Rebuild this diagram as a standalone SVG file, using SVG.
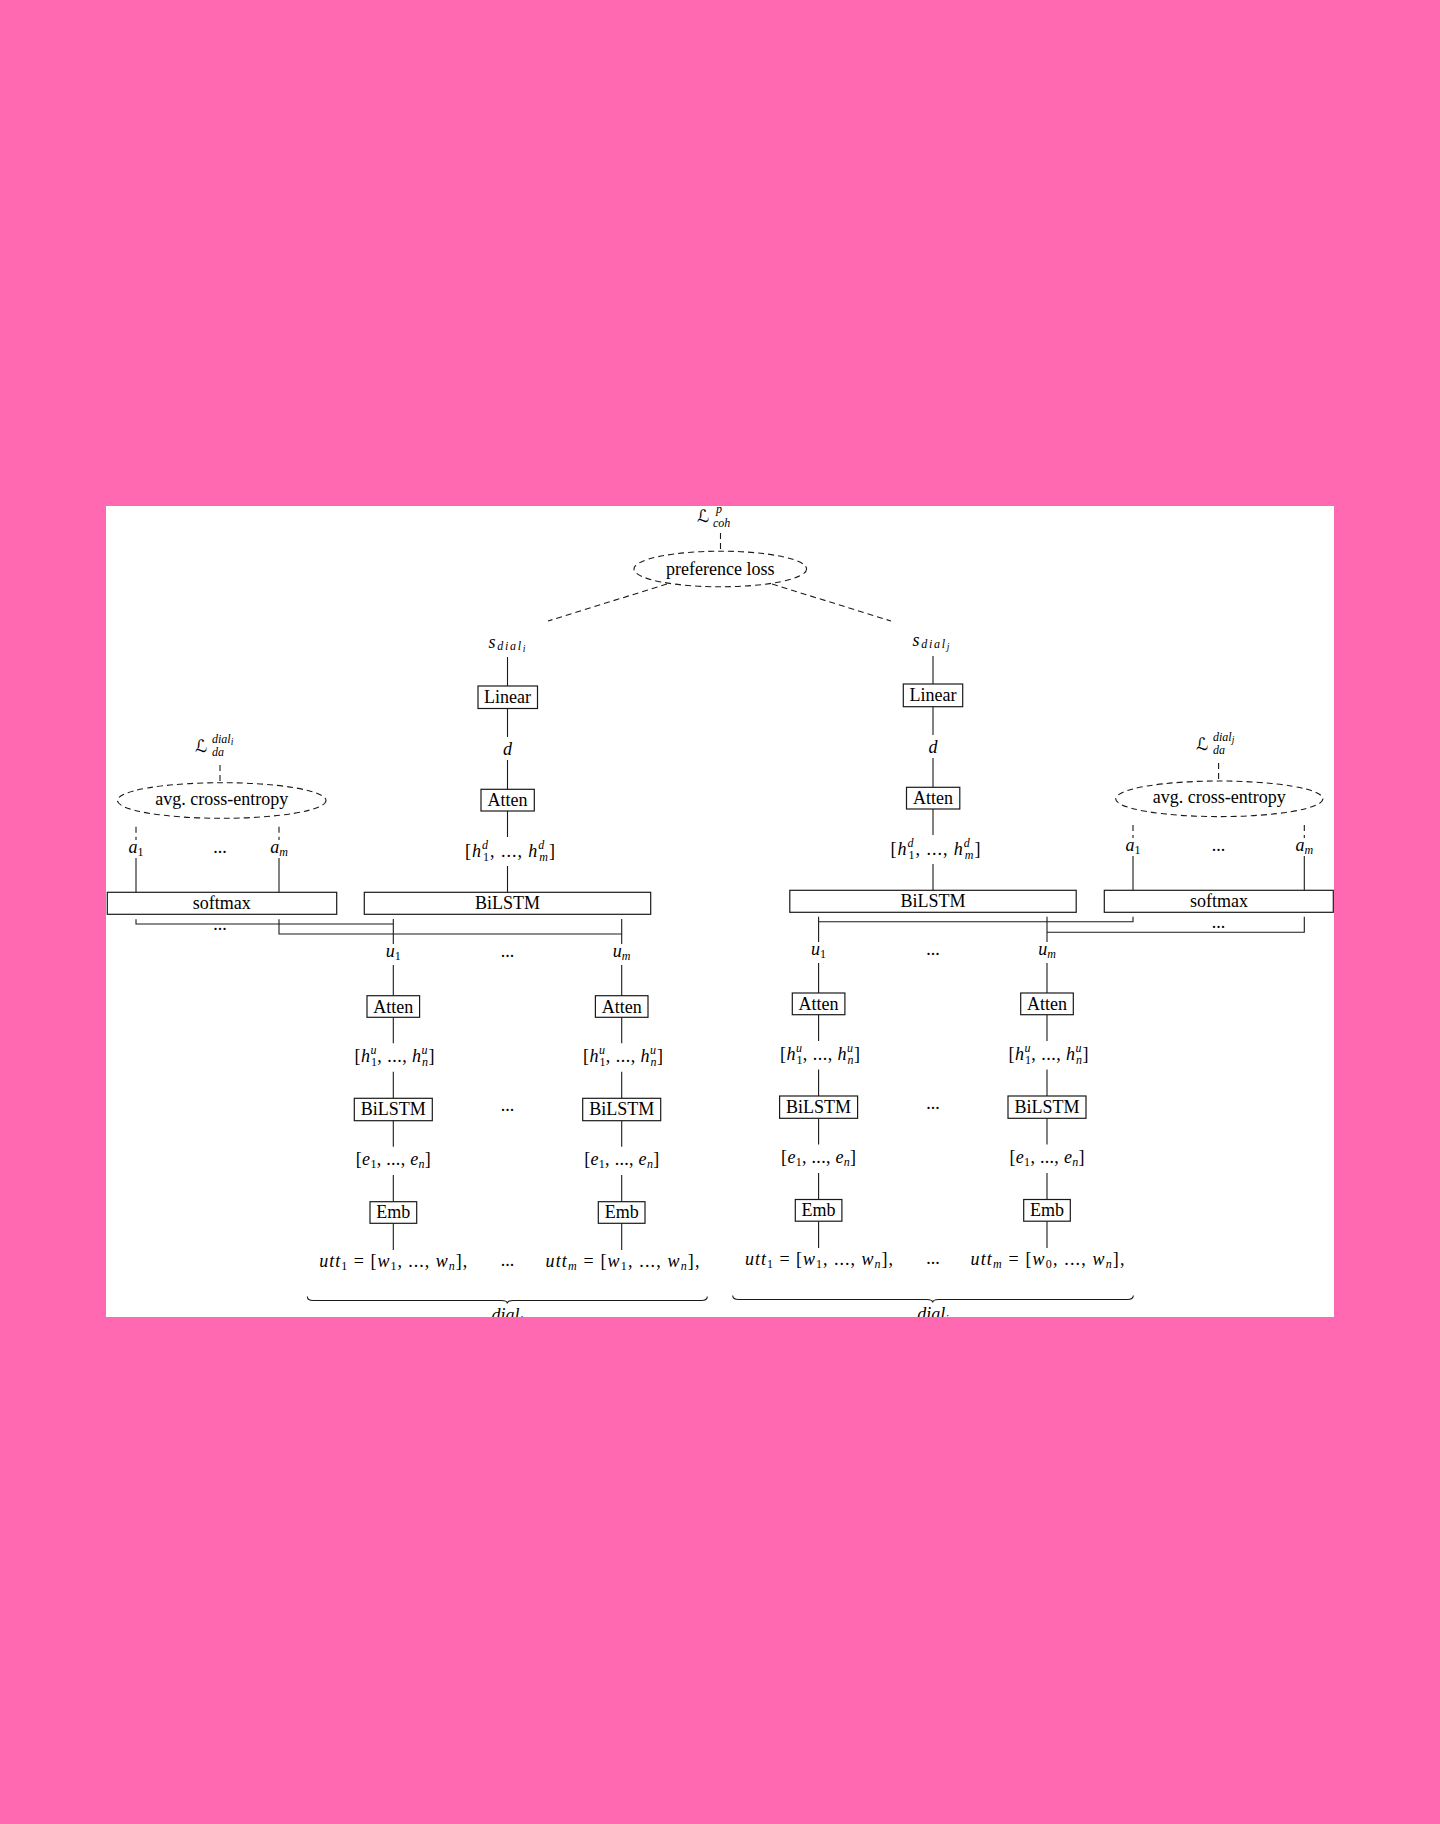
<svg xmlns="http://www.w3.org/2000/svg" width="1440" height="1824" viewBox="0 0 1440 1824">
<style>
.ln{stroke:#1a1a1a;stroke-width:1.1;fill:none}
.dl{stroke:#1a1a1a;stroke-width:1.1;fill:none;stroke-dasharray:6 4}
.bx{fill:#fff;stroke:#1a1a1a;stroke-width:1.2}
.el{fill:none;stroke:#1a1a1a;stroke-width:1.1;stroke-dasharray:6 4}
.t{font-family:"Liberation Serif","Times New Roman",serif;font-size:18px;fill:#000}
.c{text-anchor:middle}
.i{font-style:italic}
.s{font-size:12px}
.ss{font-size:9.5px}
.cal{font-family:"DejaVu Sans","Noto Sans",sans-serif;font-size:17px;font-style:normal}
</style>
<defs>
<clipPath id="clip"><rect x="106" y="506" width="1228" height="811"/></clipPath>
</defs>
<rect x="0" y="0" width="1440" height="1824" fill="#FF69B2"/>
<rect x="106" y="506" width="1228" height="811" fill="#fff"/>
<g clip-path="url(#clip)">
<g id="connectors">
<line class="dl" x1="720.5" y1="533" x2="720.5" y2="551"/>
<line class="dl" x1="667" y1="584" x2="548" y2="621"/>
<line class="dl" x1="772" y1="584" x2="891" y2="621"/>
<line class="ln" x1="507.5" y1="657" x2="507.5" y2="686"/>
<line class="ln" x1="507.5" y1="708.5" x2="507.5" y2="737"/>
<line class="ln" x1="507.5" y1="760" x2="507.5" y2="789.3"/>
<line class="ln" x1="507.5" y1="811" x2="507.5" y2="837"/>
<line class="ln" x1="507.5" y1="866" x2="507.5" y2="892.3"/>
<line class="ln" x1="933" y1="656" x2="933" y2="684"/>
<line class="ln" x1="933" y1="706.7" x2="933" y2="735"/>
<line class="ln" x1="933" y1="758" x2="933" y2="787.3"/>
<line class="ln" x1="933" y1="809" x2="933" y2="835"/>
<line class="ln" x1="933" y1="864" x2="933" y2="890.3"/>
<line class="dl" x1="220" y1="765" x2="220" y2="782.7"/>
<line class="dl" x1="136" y1="826.7" x2="136" y2="840"/>
<line class="dl" x1="279" y1="826.7" x2="279" y2="840"/>
<line class="ln" x1="136" y1="858" x2="136" y2="892.3"/>
<line class="ln" x1="279" y1="858" x2="279" y2="892.3"/>
<path class="ln" d="M136,919.3 V924 H393.3"/>
<path class="ln" d="M279,919.3 V934 H621.7"/>
<line class="ln" x1="393.3" y1="919" x2="393.3" y2="944"/>
<line class="ln" x1="621.7" y1="919" x2="621.7" y2="944"/>
<line class="dl" x1="1218.6" y1="763" x2="1218.6" y2="781"/>
<line class="dl" x1="1133" y1="825" x2="1133" y2="838"/>
<line class="dl" x1="1304.3" y1="825" x2="1304.3" y2="838"/>
<line class="ln" x1="1133" y1="856" x2="1133" y2="890.3"/>
<line class="ln" x1="1304.3" y1="856" x2="1304.3" y2="890.3"/>
<path class="ln" d="M1133,916.7 V921.7 H818.6"/>
<path class="ln" d="M1304.3,916.7 V932.3 H1047"/>
<line class="ln" x1="818.6" y1="916.7" x2="818.6" y2="942"/>
<line class="ln" x1="1047" y1="916.7" x2="1047" y2="942"/>
<path class="ln" d="M393.3,965 V995.7 M393.3,1017.3 V1043.3 M393.3,1071.7 V1098.3 M393.3,1120.7 V1146.7 M393.3,1175 V1201.7 M393.3,1223.3 V1250"/>
<path class="ln" d="M621.7,965 V995.7 M621.7,1017.3 V1043.3 M621.7,1071.7 V1098.3 M621.7,1120.7 V1146.7 M621.7,1175 V1201.7 M621.7,1223.3 V1250"/>
<path class="ln" d="M818.6,963 V993 M818.6,1014.7 V1041 M818.6,1069.5 V1096 M818.6,1118.3 V1144.5 M818.6,1173 V1199.5 M818.6,1221.2 V1248"/>
<path class="ln" d="M1047,963 V993 M1047,1014.7 V1041 M1047,1069.5 V1096 M1047,1118.3 V1144.5 M1047,1173 V1199.5 M1047,1221.2 V1248"/>
<path class="ln" d="M307.3,1296.5 q0,4 6,4 L501.3,1300.5 q6,0 6,3 q0,-3 6,-3 L701.3,1300.5 q6,0 6,-4"/>
<path class="ln" d="M732.7,1295.5 q0,4 6,4 L926.7,1299.5 q6,0 6,3 q0,-3 6,-3 L1127.3,1299.5 q6,0 6,-4"/>
</g>

<g id="loss-coh">
<text class="t" x="697" y="522"><tspan class="cal">ℒ</tspan></text>
<text class="t i s" x="716" y="513">p</text>
<text class="t i s" x="713" y="527">coh</text>
</g>
<g id="preference-loss">
<ellipse class="el" cx="720.3" cy="569" rx="86.3" ry="17.8"/>
<text class="t c" x="720.3" y="575">preference loss</text>
</g>

<g id="s-dial-i"><text class="t c" x="507" y="648" textLength="37"><tspan class="i">s</tspan><tspan class="i s" dy="2">dial</tspan><tspan class="i ss" dy="2">i</tspan></text></g>
<g id="linear-i"><rect class="bx" x="478" y="686" width="59.5" height="22.5"/><text class="t c" x="507.5" y="703">Linear</text></g>
<g id="d-i"><text class="t c i" x="507.5" y="755">d</text></g>
<g id="atten-d-i"><rect class="bx" x="481" y="789.3" width="53.3" height="21.7"/><text class="t c" x="507.5" y="806">Atten</text></g>
<g id="hd-i"><text class="t c" x="510" y="857" textLength="90">[<tspan class="i">h</tspan><tspan class="i s" dy="-8">d</tspan><tspan class="s" dx="-6" dy="12">1</tspan><tspan dy="-4">, ..., </tspan><tspan class="i">h</tspan><tspan class="i s" dy="-8">d</tspan><tspan class="i s" dx="-6" dy="12">m</tspan><tspan dy="-4">]</tspan></text></g>
<g id="bilstm-d-i"><rect class="bx" x="364.3" y="892.3" width="286.4" height="22"/><text class="t c" x="507.5" y="909">BiLSTM</text></g>
<g id="softmax-i"><rect class="bx" x="107.3" y="892.3" width="229.4" height="22"/><text class="t c" x="221.7" y="909">softmax</text></g>

<g id="s-dial-j"><text class="t c" x="931" y="646" textLength="37"><tspan class="i">s</tspan><tspan class="i s" dy="2">dial</tspan><tspan class="i ss" dy="2">j</tspan></text></g>
<g id="linear-j"><rect class="bx" x="903.3" y="684" width="59.4" height="22.7"/><text class="t c" x="933" y="701">Linear</text></g>
<g id="d-j"><text class="t c i" x="933" y="753">d</text></g>
<g id="atten-d-j"><rect class="bx" x="906.5" y="787.3" width="53.3" height="21.7"/><text class="t c" x="933" y="804">Atten</text></g>
<g id="hd-j"><text class="t c" x="935.5" y="855" textLength="90">[<tspan class="i">h</tspan><tspan class="i s" dy="-8">d</tspan><tspan class="s" dx="-6" dy="12">1</tspan><tspan dy="-4">, ..., </tspan><tspan class="i">h</tspan><tspan class="i s" dy="-8">d</tspan><tspan class="i s" dx="-6" dy="12">m</tspan><tspan dy="-4">]</tspan></text></g>
<g id="bilstm-d-j"><rect class="bx" x="789.8" y="890.3" width="286.4" height="22"/><text class="t c" x="933" y="907">BiLSTM</text></g>
<g id="softmax-j"><rect class="bx" x="1104.3" y="890.3" width="229" height="22"/><text class="t c" x="1219" y="907">softmax</text></g>

<g id="loss-da-i">
<text class="t" x="195" y="752"><tspan class="cal">ℒ</tspan></text>
<text class="t i s" x="212" y="743">dial<tspan class="ss" dy="2">i</tspan></text>
<text class="t i s" x="212" y="756">da</text>
</g>
<g id="ce-i"><ellipse class="el" cx="221.7" cy="800.5" rx="104.3" ry="17.8"/><text class="t c" x="221.7" y="805">avg. cross-entropy</text></g>
<g id="a1-i"><text class="t c" x="136" y="853"><tspan class="i">a</tspan><tspan class="s" dy="3">1</tspan></text></g>
<g id="adots-i"><text class="t c" x="220" y="853">...</text></g>
<g id="am-i"><text class="t c" x="279" y="853"><tspan class="i">a</tspan><tspan class="i s" dy="3">m</tspan></text></g>
<g id="sdots-i"><text class="t c" x="220" y="930">...</text></g>

<g id="loss-da-j">
<text class="t" x="1196" y="750"><tspan class="cal">ℒ</tspan></text>
<text class="t i s" x="1213" y="741">dial<tspan class="ss" dy="2">j</tspan></text>
<text class="t i s" x="1213" y="754">da</text>
</g>
<g id="ce-j"><ellipse class="el" cx="1219.3" cy="798.8" rx="103.6" ry="17.8"/><text class="t c" x="1219.3" y="803">avg. cross-entropy</text></g>
<g id="a1-j"><text class="t c" x="1133" y="851"><tspan class="i">a</tspan><tspan class="s" dy="3">1</tspan></text></g>
<g id="adots-j"><text class="t c" x="1218.6" y="851">...</text></g>
<g id="am-j"><text class="t c" x="1304.3" y="851"><tspan class="i">a</tspan><tspan class="i s" dy="3">m</tspan></text></g>
<g id="sdots-j"><text class="t c" x="1218.6" y="928">...</text></g>

<g id="u1-i"><text class="t c" x="393.3" y="957"><tspan class="i">u</tspan><tspan class="s" dy="3">1</tspan></text></g>
<g id="udots-i"><text class="t c" x="507.5" y="957">...</text></g>
<g id="um-i"><text class="t c" x="621.7" y="957"><tspan class="i">u</tspan><tspan class="i s" dy="3">m</tspan></text></g>
<g id="atten-u1-i"><rect class="bx" x="367" y="995.7" width="52.6" height="21.6"/><text class="t c" x="393.3" y="1012.5">Atten</text></g>
<g id="atten-um-i"><rect class="bx" x="595.4" y="995.7" width="52.6" height="21.6"/><text class="t c" x="621.7" y="1012.5">Atten</text></g>
<g id="hu-1-i"><text class="t c" x="394.5" y="1062" textLength="80">[<tspan class="i">h</tspan><tspan class="i s" dy="-8">u</tspan><tspan class="s" dx="-6" dy="12">1</tspan><tspan dy="-4">, ..., </tspan><tspan class="i">h</tspan><tspan class="i s" dy="-8">u</tspan><tspan class="i s" dx="-6" dy="12">n</tspan><tspan dy="-4">]</tspan></text></g>
<g id="hu-m-i"><text class="t c" x="623" y="1062" textLength="80">[<tspan class="i">h</tspan><tspan class="i s" dy="-8">u</tspan><tspan class="s" dx="-6" dy="12">1</tspan><tspan dy="-4">, ..., </tspan><tspan class="i">h</tspan><tspan class="i s" dy="-8">u</tspan><tspan class="i s" dx="-6" dy="12">n</tspan><tspan dy="-4">]</tspan></text></g>
<g id="bilstm-u1-i"><rect class="bx" x="354.3" y="1098.3" width="78" height="22.4"/><text class="t c" x="393.3" y="1115">BiLSTM</text></g>
<g id="bdots-i"><text class="t c" x="507.5" y="1111">...</text></g>
<g id="bilstm-um-i"><rect class="bx" x="582.7" y="1098.3" width="78" height="22.4"/><text class="t c" x="621.7" y="1115">BiLSTM</text></g>
<g id="e-1-i"><text class="t c" x="393.3" y="1165" textLength="75">[<tspan class="i">e</tspan><tspan class="s" dy="3">1</tspan><tspan dy="-3">, ..., </tspan><tspan class="i">e</tspan><tspan class="i s" dy="3">n</tspan><tspan dy="-3">]</tspan></text></g>
<g id="e-m-i"><text class="t c" x="621.7" y="1165" textLength="75">[<tspan class="i">e</tspan><tspan class="s" dy="3">1</tspan><tspan dy="-3">, ..., </tspan><tspan class="i">e</tspan><tspan class="i s" dy="3">n</tspan><tspan dy="-3">]</tspan></text></g>
<g id="emb-1-i"><rect class="bx" x="370" y="1201.7" width="46.7" height="21.6"/><text class="t c" x="393.3" y="1218">Emb</text></g>
<g id="emb-m-i"><rect class="bx" x="598.3" y="1201.7" width="46.7" height="21.6"/><text class="t c" x="621.7" y="1218">Emb</text></g>
<g id="utt-1-i"><text class="t c" x="393.3" y="1267" textLength="148"><tspan class="i">utt</tspan><tspan class="s" dy="3">1</tspan><tspan dy="-3"> = [</tspan><tspan class="i">w</tspan><tspan class="s" dy="3">1</tspan><tspan dy="-3">, ..., </tspan><tspan class="i">w</tspan><tspan class="i s" dy="3">n</tspan><tspan dy="-3">],</tspan></text></g>
<g id="wdots-i"><text class="t c" x="507.5" y="1266">...</text></g>
<g id="utt-m-i"><text class="t c" x="622.5" y="1267" textLength="154"><tspan class="i">utt</tspan><tspan class="i s" dy="3">m</tspan><tspan dy="-3"> = [</tspan><tspan class="i">w</tspan><tspan class="s" dy="3">1</tspan><tspan dy="-3">, ..., </tspan><tspan class="i">w</tspan><tspan class="i s" dy="3">n</tspan><tspan dy="-3">],</tspan></text></g>
<g id="dial-i"><text class="t c" x="507.3" y="1321"><tspan class="i">dial</tspan><tspan class="i s" dy="3">i</tspan></text></g>

<g id="u1-j"><text class="t c" x="818.6" y="955"><tspan class="i">u</tspan><tspan class="s" dy="3">1</tspan></text></g>
<g id="udots-j"><text class="t c" x="933" y="955">...</text></g>
<g id="um-j"><text class="t c" x="1047" y="955"><tspan class="i">u</tspan><tspan class="i s" dy="3">m</tspan></text></g>
<g id="atten-u1-j"><rect class="bx" x="792.3" y="993" width="52.6" height="21.7"/><text class="t c" x="818.6" y="1010">Atten</text></g>
<g id="atten-um-j"><rect class="bx" x="1020.7" y="993" width="52.6" height="21.7"/><text class="t c" x="1047" y="1010">Atten</text></g>
<g id="hu-1-j"><text class="t c" x="820" y="1060" textLength="80">[<tspan class="i">h</tspan><tspan class="i s" dy="-8">u</tspan><tspan class="s" dx="-6" dy="12">1</tspan><tspan dy="-4">, ..., </tspan><tspan class="i">h</tspan><tspan class="i s" dy="-8">u</tspan><tspan class="i s" dx="-6" dy="12">n</tspan><tspan dy="-4">]</tspan></text></g>
<g id="hu-m-j"><text class="t c" x="1048.5" y="1060" textLength="80">[<tspan class="i">h</tspan><tspan class="i s" dy="-8">u</tspan><tspan class="s" dx="-6" dy="12">1</tspan><tspan dy="-4">, ..., </tspan><tspan class="i">h</tspan><tspan class="i s" dy="-8">u</tspan><tspan class="i s" dx="-6" dy="12">n</tspan><tspan dy="-4">]</tspan></text></g>
<g id="bilstm-u1-j"><rect class="bx" x="779.6" y="1096" width="78" height="22.3"/><text class="t c" x="818.6" y="1113">BiLSTM</text></g>
<g id="bdots-j"><text class="t c" x="933" y="1109">...</text></g>
<g id="bilstm-um-j"><rect class="bx" x="1008" y="1096" width="78" height="22.3"/><text class="t c" x="1047" y="1113">BiLSTM</text></g>
<g id="e-1-j"><text class="t c" x="818.6" y="1163" textLength="75">[<tspan class="i">e</tspan><tspan class="s" dy="3">1</tspan><tspan dy="-3">, ..., </tspan><tspan class="i">e</tspan><tspan class="i s" dy="3">n</tspan><tspan dy="-3">]</tspan></text></g>
<g id="e-m-j"><text class="t c" x="1047" y="1163" textLength="75">[<tspan class="i">e</tspan><tspan class="s" dy="3">1</tspan><tspan dy="-3">, ..., </tspan><tspan class="i">e</tspan><tspan class="i s" dy="3">n</tspan><tspan dy="-3">]</tspan></text></g>
<g id="emb-1-j"><rect class="bx" x="795.3" y="1199.5" width="46.6" height="21.7"/><text class="t c" x="818.6" y="1216">Emb</text></g>
<g id="emb-m-j"><rect class="bx" x="1023.7" y="1199.5" width="46.6" height="21.7"/><text class="t c" x="1047" y="1216">Emb</text></g>
<g id="utt-1-j"><text class="t c" x="819" y="1265" textLength="148"><tspan class="i">utt</tspan><tspan class="s" dy="3">1</tspan><tspan dy="-3"> = [</tspan><tspan class="i">w</tspan><tspan class="s" dy="3">1</tspan><tspan dy="-3">, ..., </tspan><tspan class="i">w</tspan><tspan class="i s" dy="3">n</tspan><tspan dy="-3">],</tspan></text></g>
<g id="wdots-j"><text class="t c" x="933" y="1264">...</text></g>
<g id="utt-m-j"><text class="t c" x="1047.5" y="1265" textLength="154"><tspan class="i">utt</tspan><tspan class="i s" dy="3">m</tspan><tspan dy="-3"> = [</tspan><tspan class="i">w</tspan><tspan class="s" dy="3">0</tspan><tspan dy="-3">, ..., </tspan><tspan class="i">w</tspan><tspan class="i s" dy="3">n</tspan><tspan dy="-3">],</tspan></text></g>
<g id="dial-j"><text class="t c" x="933" y="1320"><tspan class="i">dial</tspan><tspan class="i s" dy="3">j</tspan></text></g>
</g>
</svg>
